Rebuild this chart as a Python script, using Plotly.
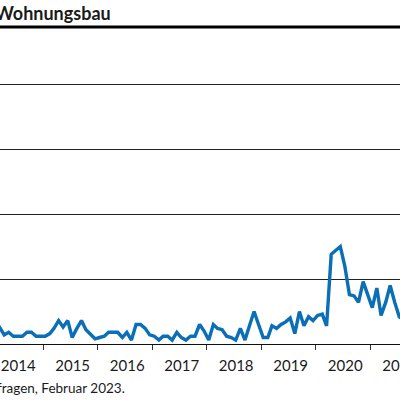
import pandas as pd
import plotly.graph_objects as go

# monthly values, Feb 2014 .. Aug 2021
start_month = "2014-02"
values = [
    1.7, 1.3, 0.7, 0.9, 0.6, 0.6, 0.6, 0.9, 0.9, 0.6, 0.6,            # 2014
    0.6, 0.8, 1.2, 1.8, 1.3, 1.8, 0.5, 1.2, 1.8, 1.1, 0.7, 0.4,       # 2015
    0.5, 0.6, 0.9, 0.9, 0.9, 0.5, 0.9, 0.3, 1.5, 1.5, 1.2, 0.7,       # 2016
    0.6, 0.3, 0.6, 0.6, 0.3, 0.9, 0.5, 0.3, 0.6, 0.6, 1.5, 1.0,       # 2017
    0.3, 1.5, 1.2, 1.1, 0.6, 0.5, 0.3, 1.2, 0.3, 1.4, 2.5, 1.5,       # 2018
    0.5, 0.5, 1.4, 1.2, 1.5, 1.7, 2.0, 0.8, 2.5, 1.4, 2.1, 1.8,       # 2019
    2.2, 2.3, 1.4, 6.9, 7.2, 7.5, 6.0, 3.8, 3.7, 3.2, 4.8, 3.9,       # 2020
    2.8, 4.3, 2.2, 3.2, 4.5, 3.2, 2.1, 1.8,                           # 2021
]
months = pd.date_range(start_month + "-01", periods=len(values), freq="MS") + pd.Timedelta(days=14)

years = list(range(2014, 2022))
year_labels = [str(y) for y in years]

title_text = "Wohnungsbau"
source_text = "fragen, Februar 2023."

BLUE = "#0A6FB6"
FONT = "Lato"
INK = "#1a1a1a"

fig = go.Figure()
fig.add_trace(go.Scatter(
    x=months, y=values, mode="lines",
    line=dict(color=BLUE, width=3.4),
    showlegend=False, hoverinfo="skip",
))

fig.update_layout(
    width=400, height=400,
    margin=dict(l=0, r=0, t=27, b=56, pad=0),
    paper_bgcolor="white", plot_bgcolor="white",
    font=dict(family=FONT, color=INK),
    xaxis=dict(
        type="date", automargin=False,
        range=["2014-03-18", "2021-07-20"],
        # labels sit mid-year, tick marks at the year boundaries
        tickmode="array",
        tickvals=[f"{y}-07-18" for y in years],
        ticktext=year_labels,
        ticklabeloverflow="allow",
        ticks="outside", ticklen=8, tickcolor="rgba(0,0,0,0)",
        minor=dict(
            tickmode="array",
            tickvals=[f"{y}-01-01" for y in years],
            ticks="outside", ticklen=5, tickcolor="#333333", tickwidth=1,
            showgrid=False,
        ),
        showgrid=False, showline=True, linecolor="#111111", linewidth=1.3,
        tickfont=dict(family=FONT, size=15, color=INK),
    ),
    yaxis=dict(
        automargin=False,
        range=[0, 317 / 13],
        dtick=5, showticklabels=False,
        showgrid=True, gridcolor="#222222", gridwidth=1,
        zeroline=False, showline=False,
    ),
)

# heavy rule under the title
fig.add_shape(type="line", xref="paper", yref="paper", x0=0, x1=1, y0=1, y1=1,
              line=dict(color="black", width=3))

fig.add_annotation(
    x=113 / 400, y=1 + (27 - 13) / 317, xref="paper", yref="paper",
    xanchor="right", yanchor="middle",
    text="<b>" + title_text + "</b>", showarrow=False,
    font=dict(family=FONT, size=18, color=INK),
)
fig.add_annotation(
    x=127 / 400, y=-(388 - 344) / 317, xref="paper", yref="paper",
    xanchor="right", yanchor="middle",
    text=source_text, showarrow=False,
    font=dict(family=FONT, size=13.5, color=INK),
)

# the page's default body margin would shift the chart by 8px
fig.write_html("out.html", config={"displayModeBar": False},
               post_script="document.body.style.margin='0px';")
